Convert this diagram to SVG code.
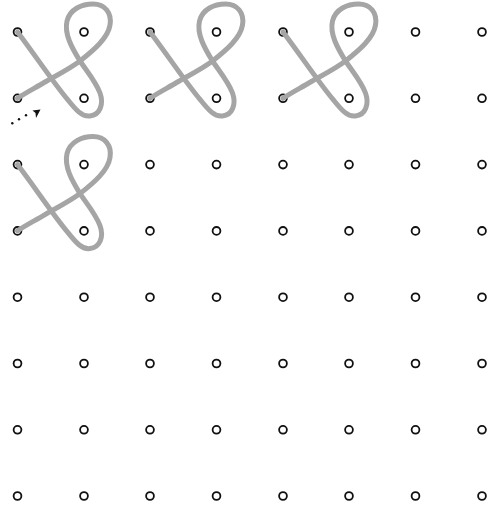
<svg xmlns="http://www.w3.org/2000/svg" xmlns:xlink="http://www.w3.org/1999/xlink" width="500" height="505" viewBox="0 0 500 505">
<style>
.d{fill:#fff;stroke:#111;stroke-width:1.8}
.cord{fill:none;stroke:#a5a5a5;stroke-width:5;stroke-linecap:round;stroke-linejoin:round}
</style>
<defs>
<circle id="dot" r="3.9" class="d"/>
<path id="loop" class="cord" d="M0,0 C17.5,23 37.5,53 50.5,68 C58.5,78 64.5,85 72.5,84 C82.5,83 86.5,72 82.5,61 C78.5,50 68.5,38 62.5,29 C54.5,16 46.5,2 49.5,-11 C52.5,-23 64.5,-28 75.5,-28 C87.5,-28 94.5,-19 92.5,-7 C90.5,6 76.5,18 62.5,29 C50.5,38 37.5,44 27.5,50 C17.5,56 7.5,61 0,66.3"/>
</defs>
<rect width="500" height="505" fill="#fff"/>
<g id="dots">
<g id="row1"><use href="#dot" x="17.5" y="32"/><use href="#dot" x="84" y="32"/><use href="#dot" x="150" y="32"/><use href="#dot" x="216.5" y="32"/><use href="#dot" x="283" y="32"/><use href="#dot" x="349" y="32"/><use href="#dot" x="415.5" y="32"/><use href="#dot" x="482" y="32"/></g>
<g id="row2"><use href="#dot" x="17.5" y="98.3"/><use href="#dot" x="84" y="98.3"/><use href="#dot" x="150" y="98.3"/><use href="#dot" x="216.5" y="98.3"/><use href="#dot" x="283" y="98.3"/><use href="#dot" x="349" y="98.3"/><use href="#dot" x="415.5" y="98.3"/><use href="#dot" x="482" y="98.3"/></g>
<g id="row3"><use href="#dot" x="17.5" y="164.6"/><use href="#dot" x="84" y="164.6"/><use href="#dot" x="150" y="164.6"/><use href="#dot" x="216.5" y="164.6"/><use href="#dot" x="283" y="164.6"/><use href="#dot" x="349" y="164.6"/><use href="#dot" x="415.5" y="164.6"/><use href="#dot" x="482" y="164.6"/></g>
<g id="row4"><use href="#dot" x="17.5" y="230.9"/><use href="#dot" x="84" y="230.9"/><use href="#dot" x="150" y="230.9"/><use href="#dot" x="216.5" y="230.9"/><use href="#dot" x="283" y="230.9"/><use href="#dot" x="349" y="230.9"/><use href="#dot" x="415.5" y="230.9"/><use href="#dot" x="482" y="230.9"/></g>
<g id="row5"><use href="#dot" x="17.5" y="297.2"/><use href="#dot" x="84" y="297.2"/><use href="#dot" x="150" y="297.2"/><use href="#dot" x="216.5" y="297.2"/><use href="#dot" x="283" y="297.2"/><use href="#dot" x="349" y="297.2"/><use href="#dot" x="415.5" y="297.2"/><use href="#dot" x="482" y="297.2"/></g>
<g id="row6"><use href="#dot" x="17.5" y="363.5"/><use href="#dot" x="84" y="363.5"/><use href="#dot" x="150" y="363.5"/><use href="#dot" x="216.5" y="363.5"/><use href="#dot" x="283" y="363.5"/><use href="#dot" x="349" y="363.5"/><use href="#dot" x="415.5" y="363.5"/><use href="#dot" x="482" y="363.5"/></g>
<g id="row7"><use href="#dot" x="17.5" y="429.8"/><use href="#dot" x="84" y="429.8"/><use href="#dot" x="150" y="429.8"/><use href="#dot" x="216.5" y="429.8"/><use href="#dot" x="283" y="429.8"/><use href="#dot" x="349" y="429.8"/><use href="#dot" x="415.5" y="429.8"/><use href="#dot" x="482" y="429.8"/></g>
<g id="row8"><use href="#dot" x="17.5" y="496"/><use href="#dot" x="84" y="496"/><use href="#dot" x="150" y="496"/><use href="#dot" x="216.5" y="496"/><use href="#dot" x="283" y="496"/><use href="#dot" x="349" y="496"/><use href="#dot" x="415.5" y="496"/><use href="#dot" x="482" y="496"/></g>
</g>
<g id="connectors">
<use id="loop1" href="#loop" transform="translate(17.5,32)"/>
<use id="loop2" href="#loop" transform="translate(150,32)"/>
<use id="loop3" href="#loop" transform="translate(283,32)"/>
<use id="loop4" href="#loop" transform="translate(17.5,164.6)"/>
<g id="start-arrow">
<circle cx="12.3" cy="123.3" r="1.2" fill="#111"/>
<circle cx="19" cy="119.3" r="1.2" fill="#111"/>
<circle cx="26" cy="115.2" r="1.2" fill="#111"/>
<polygon points="32.5,110.5 40.5,109.5 36,118 35.5,113" fill="#111"/>
</g>
</g>
</svg>
